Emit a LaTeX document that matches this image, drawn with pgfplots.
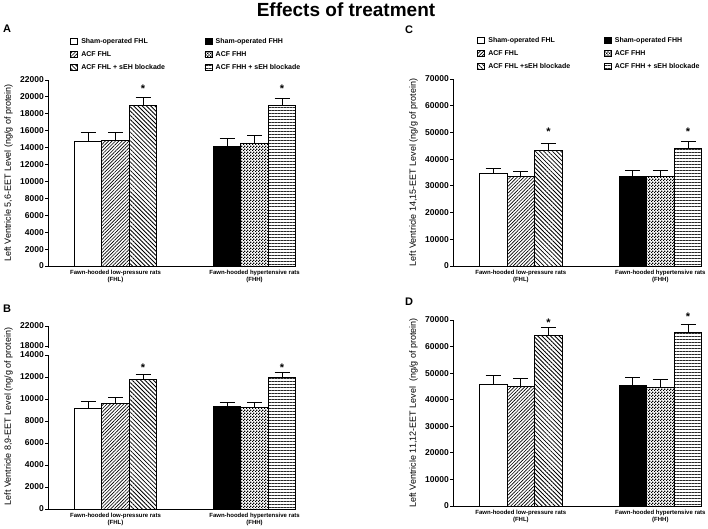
\documentclass[border=0pt]{standalone}
\usepackage{pgfplots}
\pgfplotsset{compat=1.18}
\usepackage{fontspec}
\setmainfont{Liberation Sans}
\usetikzlibrary{patterns,patterns.meta}

\tikzdeclarepattern{
  name=finecheck,
  type=uncolored,
  bottom left={(0pt,0pt)},
  top right={(3pt,3pt)},
  tile size={(3pt,3pt)},
  code={
    \fill (0pt,0pt) rectangle (1.5pt,1.5pt);
    \fill (1.5pt,1.5pt) rectangle (3pt,3pt);
  }
}

\pgfplotsset{
  barbase/.style={ybar, bar width=0.198, bar shift=0pt, draw=black, line width=0.8pt,
    error bars/y dir=plus, error bars/y explicit,
    error bars/error bar style={line width=0.7pt, black, solid},
    error bars/error mark options={rotate=90, line width=0.7pt, black, mark size=7.5pt},
    legend image code/.code={\draw[##1, line width=0.6pt] (0pt,-3pt) rectangle (7pt,3pt);}},
  shamL/.style={barbase, fill=white},
  acfL/.style={barbase, pattern={Lines[angle=45,distance=2.4pt,line width=0.65pt]}},
  sehL/.style={barbase, pattern={Lines[angle=-45,distance=3pt,line width=0.8pt]}},
  shamH/.style={barbase, fill=black},
  acfH/.style={barbase, pattern=finecheck, pattern color=black},
  sehH/.style={barbase, pattern={Lines[angle=0,distance=3pt,line width=1pt]}, pattern color=black!85},
  star/.style={only marks, mark=text, text mark={*}, text mark as node=true,
    text mark style={font=\fontsize{11}{11}\selectfont\bfseries, inner sep=0pt, yshift=-2pt}, forget plot},
  yfmt/.style={
    major y tick style={line width=0.9pt, black},
    tick align=outside, major tick length=3pt,
    yticklabel style={font=\fontsize{8.5}{9}\selectfont\bfseries, inner sep=1pt,
      /pgf/number format/fixed, /pgf/number format/1000 sep={},
      /pgf/number format/assume math mode=true},
    scaled y ticks=false,
    ylabel style={font=\fontsize{9}{10}\selectfont},
    ylabel shift=3pt,
  },
  panel/.style={
    scale only axis, width=247pt,
    axis lines*=left, axis line style={-, line width=1pt},
    xmin=0.514, xmax=2.291,
    xtick={1,2},
    xticklabels={{Fawn-hooded low-pressure rats\\(FHL)},{Fawn-hooded hypertensive rats\\(FHH)}},
    xticklabel style={align=center, font=\fontsize{6}{6.5}\selectfont\bfseries, inner sep=1pt},
    major x tick style={draw=none},
    yfmt,
    clip=false,
    legend columns=2, legend cell align=left,
    legend style={draw=none, fill=none, inner sep=0pt,
      font=\fontsize{7}{8}\selectfont\bfseries, row sep=4.5pt,
      nodes={inner sep=1pt},
      /tikz/every odd column/.append style={column sep=2.5pt}},
  },
}

\begin{document}
\begin{tikzpicture}
\useasboundingbox (0,0) rectangle (708pt,528pt);

\node[font=\fontsize{19}{20}\selectfont\bfseries] at (346pt,518pt) {Effects of treatment};
\node[font=\fontsize{11}{12}\selectfont\bfseries] at (7pt,499pt) {A};
\node[font=\fontsize{11}{12}\selectfont\bfseries] at (409pt,498pt) {C};
\node[font=\fontsize{11}{12}\selectfont\bfseries] at (7pt,219pt) {B};
\node[font=\fontsize{11}{12}\selectfont\bfseries] at (409pt,226pt) {D};

% ---------------- Panel A
\begin{axis}[panel, at={(48pt,262pt)}, anchor=south west, height=186pt,
  ymin=0, ymax=22000, ytick distance=2000,
  ylabel={Left Ventricle 5,6-EET Level (ng/g of protein)},
  legend style={at={(axis description cs:0.089,1.23)}, anchor=north west,
    /tikz/every even column/.append style={column sep=38.5pt}}]
\addplot[shamL] coordinates {(0.802,14700) +- (0,1050)};
\addlegendentry{Sham-operated FHL}
\addplot[shamH] coordinates {(1.802,14150) +- (0,900)};
\addlegendentry{Sham-operated FHH}
\addplot[acfL] coordinates {(1,14800) +- (0,950)};
\addlegendentry{ACF FHL}
\addplot[acfH] coordinates {(2,14450) +- (0,950)};
\addlegendentry{ACF FHH}
\addplot[sehL] coordinates {(1.198,18950) +- (0,1000)};
\addlegendentry{ACF FHL + sEH blockade}
\addplot[sehH] coordinates {(2.198,19000) +- (0,850)};
\addlegendentry{ACF FHH + sEH blockade}
\addplot[star] coordinates {(1.198,21200) (2.198,21200)};
\end{axis}

% ---------------- Panel B (upper segment of broken axis)
\begin{axis}[scale only axis, at={(48pt,180.5pt)}, anchor=south west, width=247pt, height=21.5pt,
  xmin=0.514, xmax=2.291, ymin=17700, ymax=22000, ytick={18000,22000},
  axis y line*=left, axis x line=none, axis line style={-, line width=1pt}, yfmt]
\addplot[draw=none] coordinates {(1,20000)};
\end{axis}

% ---------------- Panel B (lower segment)
\begin{axis}[panel, at={(48pt,19pt)}, anchor=south west, height=154pt,
  ymin=0, ymax=14000, ytick distance=2000,
  ylabel={Left Ventricle 8,9-EET Level (ng/g of protein)},
  ylabel style={at={(ticklabel cs:0.6)}}]
\addplot[shamL] coordinates {(0.802,9180) +- (0,570)};
\addplot[acfL] coordinates {(1,9620) +- (0,530)};
\addplot[sehL] coordinates {(1.198,11800) +- (0,450)};
\addplot[shamH] coordinates {(1.802,9300) +- (0,400)};
\addplot[acfH] coordinates {(2,9230) +- (0,470)};
\addplot[sehH] coordinates {(2.198,12000) +- (0,430)};
\addplot[star] coordinates {(1.198,13050) (2.198,13050)};
\end{axis}

% ---------------- Panel C
\begin{axis}[panel, at={(453pt,262pt)}, anchor=south west, width=248pt, height=187pt,
  ymin=0, ymax=70000, ytick distance=10000,
  ylabel={Left Ventricle 14,15-EET Level (ng/g of protein)},
  legend style={at={(axis description cs:0.097,1.23)}, anchor=north west,
    /tikz/every even column/.append style={column sep=32.5pt}}]
\addplot[shamL] coordinates {(0.802,34650) +- (0,1900)};
\addlegendentry{Sham-operated FHL}
\addplot[shamH] coordinates {(1.802,33650) +- (0,2000)};
\addlegendentry{Sham-operated FHH}
\addplot[acfL] coordinates {(1,33650) +- (0,1850)};
\addlegendentry{ACF FHL}
\addplot[acfH] coordinates {(2,33650) +- (0,2000)};
\addlegendentry{ACF FHH}
\addplot[sehL] coordinates {(1.198,43400) +- (0,2500)};
\addlegendentry{ACF FHL +sEH blockade}
\addplot[sehH] coordinates {(2.198,44000) +- (0,2750)};
\addlegendentry{ACF FHH + sEH blockade}
\addplot[star] coordinates {(1.198,50900) (2.198,50900)};
\end{axis}

% ---------------- Panel D
\begin{axis}[panel, at={(453pt,22pt)}, anchor=south west, width=248pt, height=186pt,
  ymin=0, ymax=70000, ytick distance=10000,
  ylabel={Left Ventricle 11,12-EET Level\ \ (ng/g of protein)}]
\addplot[shamL] coordinates {(0.802,45900) +- (0,3150)};
\addplot[acfL] coordinates {(1,44900) +- (0,3000)};
\addplot[sehL] coordinates {(1.198,64100) +- (0,3250)};
\addplot[shamH] coordinates {(1.802,45300) +- (0,3000)};
\addplot[acfH] coordinates {(2,44700) +- (0,3000)};
\addplot[sehH] coordinates {(2.198,65400) +- (0,3150)};
\addplot[star] coordinates {(1.198,69600) (2.198,71900)};
\end{axis}
\end{tikzpicture}
\end{document}
